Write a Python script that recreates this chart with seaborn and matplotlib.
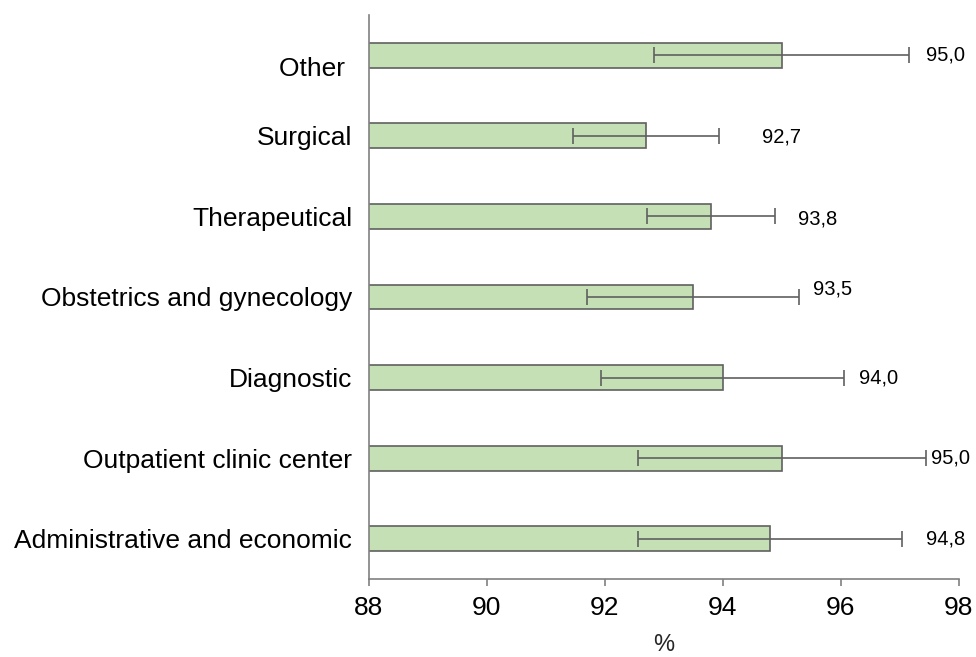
import numpy as np
import pandas as pd
import matplotlib
matplotlib.use("Agg")
import matplotlib.pyplot as plt
import matplotlib.transforms as mtransforms
import seaborn as sns

# Departments, top to bottom
departments = [
    "Other ",
    "Surgical",
    "Therapeutical",
    "Obstetrics and gynecology",
    "Diagnostic",
    "Outpatient clinic center",
    "Administrative and economic",
]
# Mean share, %
values = [95.0, 92.7, 93.8, 93.5, 94.0, 95.0, 94.8]
# Half-width of the confidence interval, percentage points
ci_half = [2.16, 1.23, 1.08, 1.80, 2.06, 2.44, 2.24]
x_ticks = [88, 90, 92, 94, 96, 98]

# Layout tweaks for the value labels (x gap after the error bar, y nudge)
label_dx = [0.29, 0.73, 0.39, 0.23, 0.25, 0.09, 0.40]
label_dy = [0.0, 0.01, 0.03, -0.10, 0.0, 0.0, 0.0]

df = pd.DataFrame({"department": departments, "value": values})

sns.set_theme(style="white")
plt.rcParams["font.family"] = ["Liberation Sans", "DejaVu Sans"]

fig = plt.figure(figsize=(9.76, 6.57), dpi=100)
ax = fig.add_axes([0.3778, 0.1187, 0.6045, 0.8585])

sns.barplot(
    data=df, y="department", x="value", order=departments,
    orient="h", color="#c5e0b4", saturation=1, width=0.31,
    edgecolor="#606060", linewidth=1.2, errorbar=None, ax=ax,
)

ypos = np.arange(len(departments))
ax.errorbar(values, ypos, xerr=ci_half, fmt="none", ecolor="#606060",
            elinewidth=1.2, capsize=5.5, capthick=1.2, zorder=3)

for i, (v, c) in enumerate(zip(values, ci_half)):
    ax.text(v + c + label_dx[i], i + label_dy[i],
            f"{v:.1f}".replace(".", ","), ha="left", va="center",
            fontsize=14.5, color="black")

ax.set_xlim(88, 98)
ax.set_ylim(len(departments) - 0.5, -0.5)
ax.set_xticks(x_ticks)
ax.set_xticklabels([str(t) for t in x_ticks])
ax.set_xlabel("%", fontsize=17, labelpad=10)
ax.set_ylabel("")

for side in ["top", "right"]:
    ax.spines[side].set_visible(False)
for side in ["left", "bottom"]:
    ax.spines[side].set_color("#808080")
    ax.spines[side].set_linewidth(1.2)

ax.tick_params(axis="x", which="both", bottom=True, length=5, width=1.2,
               color="#808080", labelsize=19, pad=7, labelcolor="black")
ax.tick_params(axis="y", which="both", left=False, length=0, labelsize=19,
               pad=12, labelcolor="black")

# Nudge the first category label down slightly
lbl = ax.get_yticklabels()[0]
lbl.set_transform(lbl.get_transform() +
                  mtransforms.ScaledTranslation(0, -8 / 72, fig.dpi_scale_trans))

fig.savefig("out.png", dpi=100)
